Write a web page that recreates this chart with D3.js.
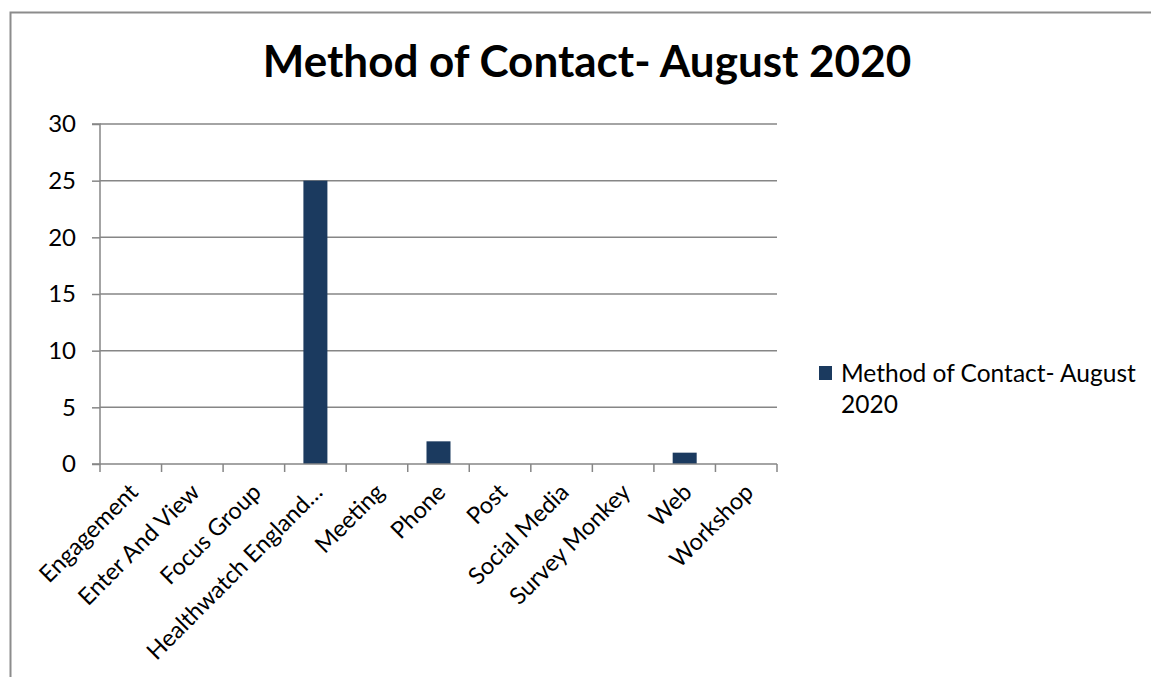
<!DOCTYPE html>
<html>
<head>
<meta charset="utf-8">
<script src="https://cdn.jsdelivr.net/npm/d3@7"></script>
<style>
  html, body { margin: 0; padding: 0; background: #fff; }
  svg { display: block; font-family: Lato, "Open Sans", sans-serif; }
</style>
</head>
<body>
<svg id="chart" width="1151" height="677"></svg>
<script>
const titleText = "Method of Contact- August 2020";
const seriesName = "Method of Contact- August 2020";
const categories = ["Engagement", "Enter And View", "Focus Group", "Healthwatch England\u2026", "Meeting", "Phone", "Post", "Social Media", "Survey Monkey", "Web", "Workshop"];
const values = [0, 0, 0, 25, 0, 2, 0, 0, 0, 1, 0];
const yTicks = [0, 5, 10, 15, 20, 25, 30];

(function () {
const svg = d3.select("#chart");
const barColor = "#1b3a5f";
const gridColor = "#868686";

// outer border
svg.append("path")
  .attr("d", "M10.5,677 V12.5 H1151")
  .attr("fill", "none").attr("stroke", "#8c8c8c").attr("stroke-width", 2);

const pl = 100, pr = 777, pt = 124, pb = 464;
const x = d3.scaleBand().domain(categories).range([pl, pr]).paddingInner(0).paddingOuter(0);
const y = d3.scaleLinear().domain([0, 30]).range([pb, pt]);

// gridlines
svg.append("g").selectAll("line").data(yTicks.filter(d => d > 0)).join("line")
  .attr("x1", pl).attr("x2", pr)
  .attr("y1", d => y(d)).attr("y2", d => y(d))
  .attr("stroke", gridColor).attr("stroke-width", 1.5);

// bars
const bw = x.bandwidth() * 0.39;
svg.append("g").selectAll("rect").data(values.map((v, i) => ({c: categories[i], v})))
  .join("rect")
  .attr("x", d => x(d.c) + x.bandwidth() / 2 - bw / 2)
  .attr("width", bw)
  .attr("y", d => y(d.v))
  .attr("height", d => y(0) - y(d.v))
  .attr("fill", barColor);

// y axis
const yAxis = d3.axisLeft(y).tickValues(yTicks).tickSize(8).tickPadding(16);
const gy = svg.append("g").attr("transform", `translate(${pl},0)`).call(yAxis);
gy.select(".domain").attr("stroke", gridColor).attr("stroke-width", 1.5).attr("d", `M-8,${pt}H0V${pb}H-8`);
gy.selectAll(".tick line").attr("stroke", gridColor).attr("stroke-width", 1.5);
gy.selectAll(".tick text").attr("font-size", 24).attr("fill", "#000").attr("font-family", "Lato, sans-serif");

// x axis with boundary ticks
const gx = svg.append("g").attr("transform", `translate(0,${pb})`);
gx.append("line").attr("x1", pl).attr("x2", pr).attr("y1", 0).attr("y2", 0)
  .attr("stroke", gridColor).attr("stroke-width", 1.5);
const bounds = categories.map(c => x(c)).concat([pr]);
gx.selectAll("line.bt").data(bounds).join("line").attr("class", "bt")
  .attr("x1", d => d).attr("x2", d => d).attr("y1", 0).attr("y2", 8)
  .attr("stroke", gridColor).attr("stroke-width", 1.5);
gx.selectAll("text").data(categories).join("text")
  .attr("transform", d => `translate(${x(d) + x.bandwidth() / 2 - 3},${18}) rotate(-45)`)
  .attr("text-anchor", "end")
  .attr("dy", "0.7em")
  .attr("font-size", 23.5)
  .attr("fill", "#000")
  .text(d => d);

// title
svg.append("text")
  .attr("x", 587).attr("y", 77)
  .attr("text-anchor", "middle")
  .attr("font-size", 44).attr("font-weight", "bold")
  .attr("fill", "#000")
  .text(titleText);

// legend
const lg = svg.append("g");
lg.append("rect").attr("x", 819).attr("y", 366).attr("width", 13).attr("height", 14).attr("fill", barColor);
const lt = lg.append("text").attr("x", 841).attr("y", 382).attr("font-size", 24.5).attr("fill", "#000");
const words = seriesName.split(" ");
lt.append("tspan").attr("x", 841).text(words.slice(0, 4).join(" "));
lt.append("tspan").attr("x", 841).attr("dy", 31).text(words.slice(4).join(" "));
})();
</script>
</body>
</html>
